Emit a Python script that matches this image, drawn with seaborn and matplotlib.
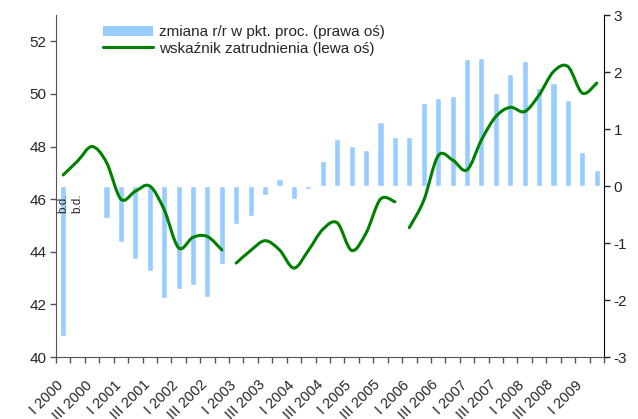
import numpy as np
import pandas as pd
import matplotlib
matplotlib.use("Agg")
import matplotlib.pyplot as plt
import matplotlib.transforms as mtransforms
import seaborn as sns
from matplotlib.path import Path
from matplotlib.patches import PathPatch, Patch
from matplotlib.lines import Line2D

sns.set_style("white")
plt.rcParams['font.family'] = ['Liberation Sans', 'DejaVu Sans']
plt.rcParams['axes.unicode_minus'] = False

# quarters I 2000 .. II 2009
quarters = [f"{q} {y}" for y in range(2000, 2010) for q in ["I", "II", "III", "IV"]][:38]
tick_labels = quarters[::2]

# y/y change in pp (right axis), NaN = no data (b.d.)
change_yy = [-2.63, np.nan, np.nan, -0.56, -0.98, -1.28, -1.49, -1.96, -1.80, -1.73,
             -1.94, -1.36, -0.66, -0.52, -0.16, 0.13, -0.22, -0.05, 0.44, 0.83,
             0.71, 0.63, 1.12, 0.86, 0.86, 1.46, 1.54, 1.58, 2.23, 2.25,
             1.63, 1.97, 2.19, 1.72, 1.81, 1.51, 0.60, 0.28]

# employment rate (left axis), three separate series (methodology breaks)
employment = [46.92, 47.45, 48.00, 47.40, 46.00, 46.30, 46.50, 45.60, 44.15, 44.55, 44.58, 44.07,
              43.57, 44.05, 44.42, 44.07, 43.38, 44.05, 44.85, 45.10, 44.05, 44.71, 46.00, 45.90,
              44.92, 45.95, 47.65, 47.49, 47.11, 48.25, 49.14, 49.49, 49.33, 49.96, 50.85, 51.04,
              50.03, 50.41]
series_breaks = [0, 12, 24, 38]
no_data = ["I 2000", "II 2000"]

bar_label = "zmiana r/r w pkt. proc. (prawa oś)"
line_label = "wskaźnik zatrudnienia (lewa oś)"

bar_color = "#99CCFF"
line_color = "#008000"


def smooth_path(xs, ys):
    # Excel-like smoothed line (Catmull-Rom as cubic Bezier)
    pts = np.column_stack([xs, ys])
    n = len(pts)
    verts = [pts[0]]
    codes = [Path.MOVETO]
    for i in range(n - 1):
        p0 = pts[max(i - 1, 0)]
        p1 = pts[i]
        p2 = pts[i + 1]
        p3 = pts[min(i + 2, n - 1)]
        verts += [p1 + (p2 - p0) / 6, p2 - (p3 - p1) / 6, p2]
        codes += [Path.CURVE4] * 3
    return Path(verts, codes)


df = pd.DataFrame({'quarter': quarters, 'change': change_yy}).dropna()

fig = plt.figure(figsize=(6.38, 4.19), dpi=100)
ax_bar = fig.add_axes([56 / 638, 1 - 357 / 419, 548 / 638, 342 / 419])
ax_line = ax_bar.twinx()

sns.barplot(data=df, x='quarter', y='change', order=quarters, color=bar_color,
            saturation=1, width=0.42, errorbar=None, ax=ax_bar)
ax_bar.set_xlim(-0.5, len(quarters) - 0.5)
ax_bar.set_ylim(-3, 3)
ax_bar.set_yticks(range(-3, 4))
ax_bar.yaxis.tick_right()
ax_bar.yaxis.set_label_position("right")
ax_bar.set_xlabel("")
ax_bar.set_ylabel("")

for q in no_data:
    ax_bar.text(quarters.index(q), -0.14, "b.d.", rotation=90, ha='center', va='top', fontsize=8.5)

# line on top of bars
ax_line.set_zorder(ax_bar.get_zorder() + 1)
ax_line.patch.set_visible(False)
x_pos = np.arange(len(quarters))
for a, b in zip(series_breaks[:-1], series_breaks[1:]):
    path = smooth_path(x_pos[a:b], employment[a:b])
    ax_line.add_patch(PathPatch(path, fill=False, edgecolor=line_color, lw=2.2,
                                capstyle='round', joinstyle='round'))
ax_line.set_ylim(40, 53)
ax_line.set_yticks(range(40, 53, 2))
ax_line.yaxis.tick_left()
ax_line.yaxis.set_label_position("left")

# x axis: labels every second quarter, tick marks between categories
ax_bar.set_xticks(np.arange(0, len(quarters), 2))
ax_bar.set_xticklabels(tick_labels, rotation=45, ha='right', rotation_mode='anchor')
ax_bar.set_xticks(np.arange(-0.5, len(quarters), 1), minor=True)
ax_bar.tick_params(axis='x', which='major', length=0, pad=15, labelsize=10.5)
ax_bar.tick_params(axis='x', which='minor', length=4, width=1, color='#555555', direction='out', bottom=True)
shift = mtransforms.ScaledTranslation(-7 / 100, 0, fig.dpi_scale_trans)
for lab in ax_bar.get_xticklabels():
    lab.set_transform(lab.get_transform() + shift)
ax_bar.tick_params(axis='y', length=4, width=1, direction='out', right=True, left=False,
                   labelsize=11, pad=3)
ax_line.tick_params(axis='y', length=4, width=1, direction='out', left=True, right=False,
                    labelsize=11, pad=3, color='#555555')

for a in (ax_bar, ax_line):
    for side in ['top', 'left', 'right', 'bottom']:
        a.spines[side].set_visible(False)
ax_line.spines['left'].set_visible(True)
ax_line.spines['left'].set_color('#555555')
ax_bar.spines['right'].set_visible(True)
ax_bar.spines['right'].set_color('black')
ax_bar.spines['bottom'].set_visible(True)
ax_bar.spines['bottom'].set_color('#555555')

handles = [Patch(facecolor=bar_color, edgecolor='none'),
           Line2D([0], [0], color=line_color, lw=2.2)]
ax_line.legend(handles, [bar_label, line_label], loc='upper left',
               bbox_to_anchor=(47 / 548, 0.97), frameon=False, fontsize=11,
               handlelength=3.3, handleheight=0.7, handletextpad=0.35,
               labelspacing=0.15, borderpad=0, borderaxespad=0)

fig.savefig("out.png", dpi=100)
